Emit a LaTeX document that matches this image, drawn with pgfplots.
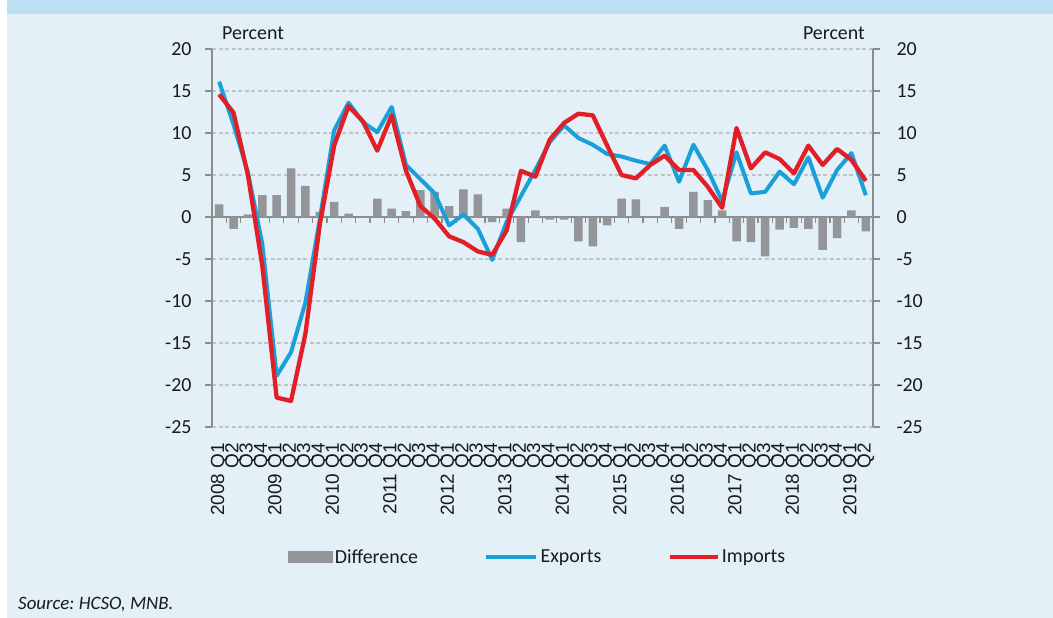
\documentclass[border=0pt]{standalone}
\usepackage{pgfplots}
\pgfplotsset{compat=1.18}
\usepackage{pgfplotstable}
\usepackage{fontspec}
\setmainfont{Carlito}
\newfontfamily\arialf{Liberation Sans}
\definecolor{bg}{HTML}{E3F0F7}
\definecolor{band}{HTML}{BDDFF2}
\definecolor{bargray}{HTML}{939598}
\definecolor{expblue}{HTML}{1A9FD9}
\definecolor{impred}{HTML}{E21E26}
\definecolor{gridc}{HTML}{C2C4C6}
\definecolor{axisc}{HTML}{8C8C8C}
\definecolor{txt}{HTML}{1A1A1A}

\pgfplotstableread{
i exp imp diff
0 16.1 14.6 1.5
1 11.0 12.4 -1.4
2 5.3 5.0 0.3
3 -3.2 -5.8 2.6
4 -18.9 -21.5 2.6
5 -16.1 -21.9 5.8
6 -10.2 -13.9 3.7
7 -0.3 -0.9 0.6
8 10.3 8.5 1.8
9 13.6 13.2 0.4
10 11.3 11.4 -0.1
11 10.1 7.9 2.2
12 13.1 12.1 1.0
13 6.2 5.5 0.7
14 4.5 1.3 3.2
15 2.8 -0.2 3.0
16 -1.0 -2.3 1.3
17 0.3 -3.0 3.3
18 -1.4 -4.1 2.7
19 -5.1 -4.5 -0.6
20 -0.6 -1.6 1.0
21 2.5 5.5 -3.0
22 5.6 4.8 0.8
23 8.9 9.2 -0.3
24 10.9 11.2 -0.3
25 9.4 12.3 -2.9
26 8.6 12.1 -3.5
27 7.5 8.5 -1.0
28 7.2 5.0 2.2
29 6.7 4.6 2.1
30 6.3 6.2 0.1
31 8.5 7.3 1.2
32 4.2 5.6 -1.4
33 8.6 5.6 3.0
34 5.6 3.6 2.0
35 1.9 1.1 0.8
36 7.7 10.6 -2.9
37 2.8 5.8 -3.0
38 3.0 7.7 -4.7
39 5.4 6.9 -1.5
40 3.9 5.2 -1.3
41 7.1 8.5 -1.4
42 2.3 6.2 -3.9
43 5.6 8.1 -2.5
44 7.6 6.8 0.8
45 2.6 4.3 -1.7
}\datatable

\begin{document}
\begin{tikzpicture}[x=1bp,y=1bp]
\useasboundingbox (0,0) rectangle (1053,-618);
\fill[white] (0,0) rectangle (1053,-618);
\fill[bg] (7,0) rectangle (1053,-618);
\fill[band] (7,0) rectangle (1053,-14);
\node[anchor=west, text=txt, font=\fontsize{20}{24}\selectfont, inner sep=0pt] at (222,-33) {Percent};
\node[anchor=east, text=txt, font=\fontsize{20}{24}\selectfont, inner sep=0pt] at (865,-33) {Percent};
\node[anchor=west, text=txt, font=\itshape\fontsize{19}{23}\selectfont, inner sep=0pt] at (18,-605) {Source:~HCSO, MNB.};

\begin{axis}[
  at={(212bp,-427bp)}, anchor=south west,
  width=661bp, height=378bp, scale only axis,
  xmin=-0.5, xmax=45.5, ymin=-25, ymax=20,
  axis y line*=left, axis x line*=bottom,
  x axis line style={draw=none},
  y axis line style={axisc, line width=1.5bp},
  xtick={0,...,45},
  xticklabels={2008 Q1,Q2,Q3,Q4,2009 Q1,Q2,Q3,Q4,2010 Q1,Q2,Q3,Q4,2011 Q1,Q2,Q3,Q4,2012 Q1,Q2,Q3,Q4,2013 Q1,Q2,Q3,Q4,2014 Q1,Q2,Q3,Q4,2015 Q1,Q2,Q3,Q4,2016 Q1,Q2,Q3,Q4,2017 Q1,Q2,Q3,Q4,2018 Q1,Q2,Q3,Q4,2019 Q1,Q2},
  xticklabel style={rotate=90, anchor=east, inner sep=0pt, text=txt, font=\arialf\fontsize{19}{19}\selectfont},
  xticklabel shift=9bp,
  major x tick style={draw=none},
  ytick={-25,-20,...,20},
  /pgf/number format/assume math mode=true,
  yticklabel style={text=txt, font=\fontsize{20}{24}\selectfont, xshift=-10bp},
  major y tick style={axisc, line width=1.2bp},
  tick align=outside, major tick length=7bp,
  ymajorgrids=true,
  grid style={gridc, line width=1.2bp, dash pattern=on 4bp off 2.5bp},
  clip=false,
  legend columns=3,
  legend style={at={(0.5,-0.344)}, anchor=center, xshift=-5bp, draw=none, fill=none,
    font=\fontsize{20}{24}\selectfont, text=txt,
    nodes={inner sep=2bp},
    /tikz/every even column/.append style={column sep=64bp}},
]
\draw[axisc, line width=1.5bp] (axis cs:-0.5,0) -- (axis cs:45.5,0);
\pgfplotsinvokeforeach{0,...,46}{
  \draw[axisc, line width=1.2bp] (axis cs:#1-0.5,0) -- ([yshift=-6bp]axis cs:#1-0.5,0);
}
\addplot[ybar, bar width=8.5bp, fill=bargray, draw=none,
  legend image code/.code={\fill[bargray] (0bp,-6bp) rectangle (45bp,6bp);}]
  table[x=i, y=diff] {\datatable};
\addlegendentry{Difference}
\addplot[expblue, line width=4bp, line join=round,
  legend image code/.code={\draw[expblue, line width=4.5bp] (0bp,0bp) -- (50bp,0bp);}]
  table[x=i, y=exp] {\datatable};
\addlegendentry{Exports}
\addplot[impred, line width=4.3bp, line join=round,
  legend image code/.code={\draw[impred, line width=4.5bp] (0bp,0bp) -- (48bp,0bp);}]
  table[x=i, y=imp] {\datatable};
\addlegendentry{Imports}
\end{axis}

\begin{axis}[
  at={(212bp,-427bp)}, anchor=south west,
  width=661bp, height=378bp, scale only axis,
  xmin=-0.5, xmax=45.5, ymin=-25, ymax=20,
  axis y line*=right, axis x line=none,
  y axis line style={axisc, line width=1.5bp},
  ytick={-25,-20,...,20},
  /pgf/number format/assume math mode=true,
  yticklabel style={text=txt, font=\fontsize{20}{24}\selectfont, xshift=13bp},
  major y tick style={axisc, line width=1.2bp},
  tick align=outside, major tick length=7bp,
]
\addplot[draw=none, forget plot] coordinates {(0,0)};
\end{axis}
\end{tikzpicture}
\end{document}
